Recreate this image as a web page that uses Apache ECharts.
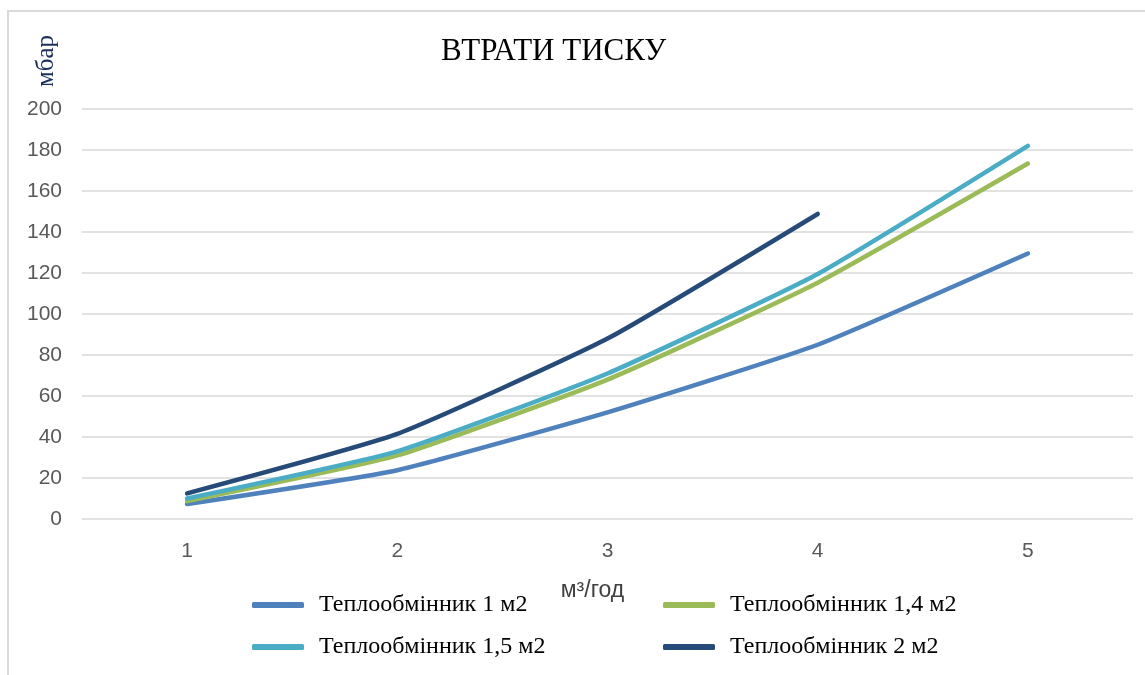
<!DOCTYPE html>
<html>
<head>
<meta charset="utf-8">
<script src="https://cdn.jsdelivr.net/npm/echarts@6/dist/echarts.min.js"></script>
<style>
  html, body { margin: 0; padding: 0; background: #fff; }
  #wrap { position: relative; width: 1145px; height: 675px; overflow: hidden; }
  #chart { width: 1145px; height: 675px; }
  /* рамка області діаграми */
  #frame { position: absolute; left: 7px; top: 10px; width: 1160px; height: 700px;
           border: 2px solid #dadada; pointer-events: none; box-sizing: border-box; }
</style>
</head>
<body>
<div id="wrap">
  <div id="chart"></div>
  <div id="frame"></div>
</div>
<script>
// витрата, м3/год
const categories = ['1', '2', '3', '4', '5']
// втрати тиску, мбар
const hx1 = [7.3, 23.8, 52, 85, 129.5]
const hx14 = [8.7, 31, 68, 115.3, 173.4]
const hx15 = [10, 33, 71, 119.5, 182]
const hx2 = [12.5, 41.5, 88, 148.8, null]

const yTicks = { min: 0, max: 200, interval: 20 }

const names = ['Теплообмінник 1 м2', 'Теплообмінник 1,4 м2', 'Теплообмінник 1,5 м2', 'Теплообмінник 2 м2']

const COLOR = {
    blue: '#4f81bd',
    green: '#9bbb59',
    cyan: '#4bacc6',
    navy: '#264b78',
    axisLabel: '#595959',
    splitLine: '#d9d9d9'
}

const SERIF = '"Liberation Serif", "DejaVu Serif", serif'
const SANS = '"Liberation Sans", Arial, sans-serif'

function makeSeries(name, data, color) {
    return {
        name: name,
        type: 'line',
        data: data,
        smooth: 0.15,
        showSymbol: false,
        symbol: 'none',
        connectNulls: false,
        color: color,
        lineStyle: { width: 4.5, color: color, cap: 'round', join: 'round' },
        emphasis: { disabled: true }
    }
}

const legendText = { fontFamily: SERIF, fontSize: 24, color: '#000', lineHeight: 22, padding: [0, 0, 0, 10] }

const chart = echarts.init(document.getElementById('chart'), null, { renderer: 'canvas' })

const option = {
    animation: false,
    title: {
        text: 'ВТРАТИ ТИСКУ',
        left: 436,
        top: 31,
        textStyle: { fontFamily: SERIF, fontSize: 31, fontWeight: 'normal', color: '#000' }
    },
    grid: { left: 82, right: 12, top: 109, bottom: 156, containLabel: false },
    xAxis: {
        type: 'category',
        data: categories,
        boundaryGap: true,
        name: 'м³/год',
        nameLocation: 'middle',
        nameGap: 60,
        nameTextStyle: { fontFamily: SANS, fontSize: 23, color: '#404040', padding: [0, 30, 0, 0] },
        axisLine: { show: false },
        axisTick: { show: false },
        axisLabel: { fontFamily: SANS, fontSize: 21, color: COLOR.axisLabel, margin: 22 }
    },
    yAxis: {
        type: 'value',
        min: yTicks.min,
        max: yTicks.max,
        interval: yTicks.interval,
        axisLine: { show: false },
        axisTick: { show: false },
        axisLabel: { fontFamily: SANS, fontSize: 21, color: COLOR.axisLabel, margin: 20 },
        splitLine: { show: true, lineStyle: { color: COLOR.splitLine, width: 1.5 } }
    },
    legend: [
        {
            orient: 'vertical',
            left: 247,
            top: 588,
            itemGap: 18,
            itemWidth: 52,
            itemHeight: 6,
            icon: 'roundRect',
            data: [names[0], names[2]],
            textStyle: legendText
        },
        {
            orient: 'vertical',
            left: 658,
            top: 588,
            itemGap: 18,
            itemWidth: 52,
            itemHeight: 6,
            icon: 'roundRect',
            data: [names[1], names[3]],
            textStyle: legendText
        }
    ],
    graphic: [
        {
            type: 'text',
            x: 46,
            y: 61,
            rotation: Math.PI / 2,
            style: {
                text: 'мбар',
                font: '25px ' + SERIF,
                fill: '#1a2f5a',
                align: 'center',
                verticalAlign: 'middle'
            }
        }
    ],
    series: [
        makeSeries(names[0], hx1, COLOR.blue),
        makeSeries(names[1], hx14, COLOR.green),
        makeSeries(names[2], hx15, COLOR.cyan),
        makeSeries(names[3], hx2, COLOR.navy)
    ]
}

chart.setOption(option)
</script>
</body>
</html>
